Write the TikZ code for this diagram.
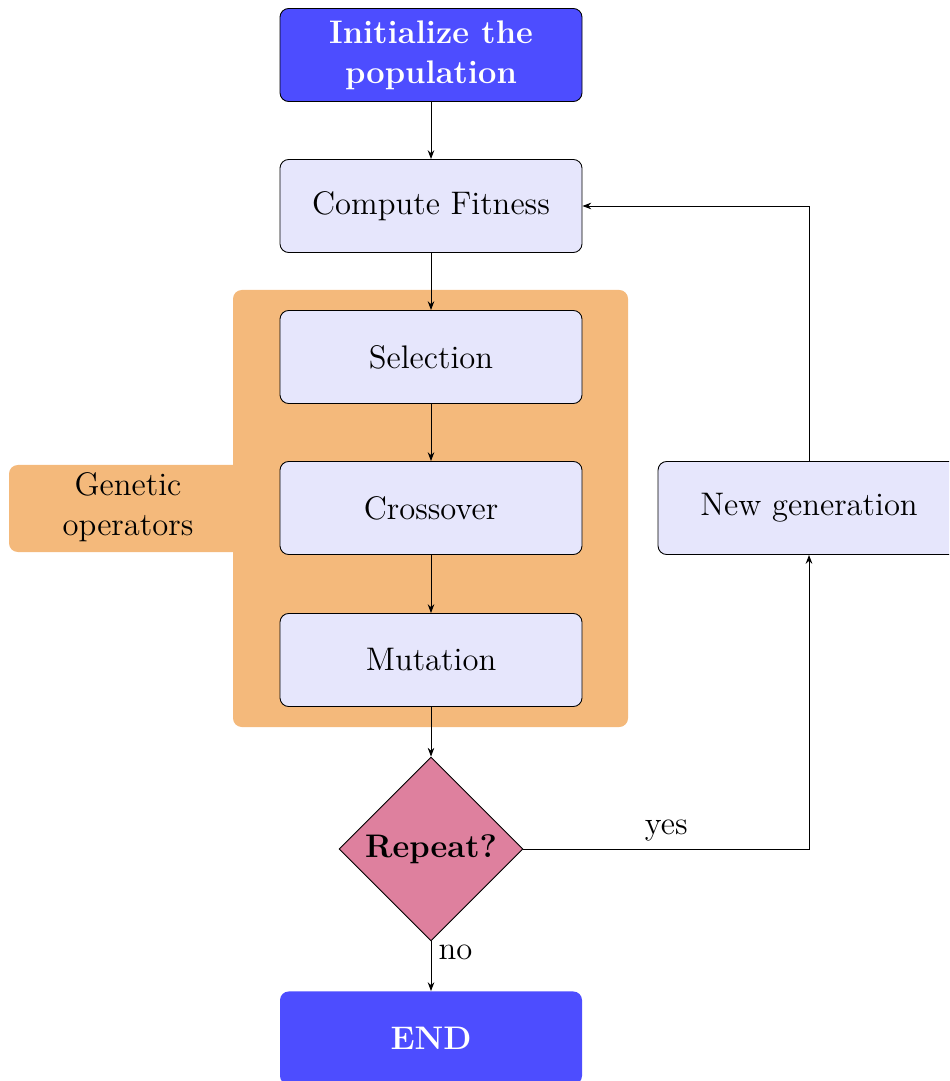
\documentclass[tikz,border=0pt]{standalone}
\usetikzlibrary{shapes.geometric,arrows.meta}
\definecolor{opblue}{RGB}{77,77,255}
\definecolor{boxfill}{RGB}{230,230,252}
\definecolor{oporange}{RGB}{244,185,123}
\definecolor{oppink}{RGB}{222,128,158}
\newcommand{\myfont}{\fontsize{14.9}{18.4}\selectfont}
\begin{document}
\begin{tikzpicture}[x=0.4566pt,y=-0.4566pt,
  stepbox/.style={draw, rounded corners=4pt, fill=boxfill, minimum width=137.9pt, minimum height=42.5pt, font=\myfont, align=center},
  startbox/.style={stepbox, fill=opblue, text=white, font=\myfont\bfseries},
  endbox/.style={startbox, draw=none},
  decide/.style={diamond, draw, fill=oppink, aspect=1, minimum width=84pt, minimum height=84pt, inner sep=0pt, font=\myfont\bfseries},
  conn/.style={-{Stealth[length=4pt,width=3pt]}}]
\useasboundingbox (0,0) rectangle (949,1081);
\clip (0,0) rectangle (949,1081);
% background group
\fill[oporange, rounded corners=4pt] (233,290) rectangle (628,727);
\fill[oporange, rounded corners=4pt] (9,465) rectangle (250,552);
\node[font=\myfont, align=center] (gen) at (128,507) {Genetic\\operators};
% nodes
\node[startbox] (init) at (431,55) {Initialize the\\population};
\node[stepbox] (fit) at (431,206) {Compute Fitness};
\node[stepbox] (sel) at (431,357) {Selection};
\node[stepbox] (cross) at (431,508) {Crossover};
\node[stepbox] (mut) at (431,660) {Mutation};
\node[decide] (rep) at (431,849) {Repeat?};
\node[endbox] (end) at (431,1038) {END};
\node[stepbox] (newgen) at (809,508) {New generation};
% connectors
\draw[conn] (init) -- (fit);
\draw[conn] (fit) -- (sel);
\draw[conn] (sel) -- (cross);
\draw[conn] (cross) -- (mut);
\draw[conn] (mut) -- (rep);
\draw[conn] (rep) -- node[pos=0.22, right, font=\myfont] {no} (end);
\draw[conn] (rep.east) -| node[pos=0.25, above, font=\myfont] {yes} (newgen.south);
\draw[conn] (newgen.north) |- (fit.east);
\end{tikzpicture}
\end{document}
